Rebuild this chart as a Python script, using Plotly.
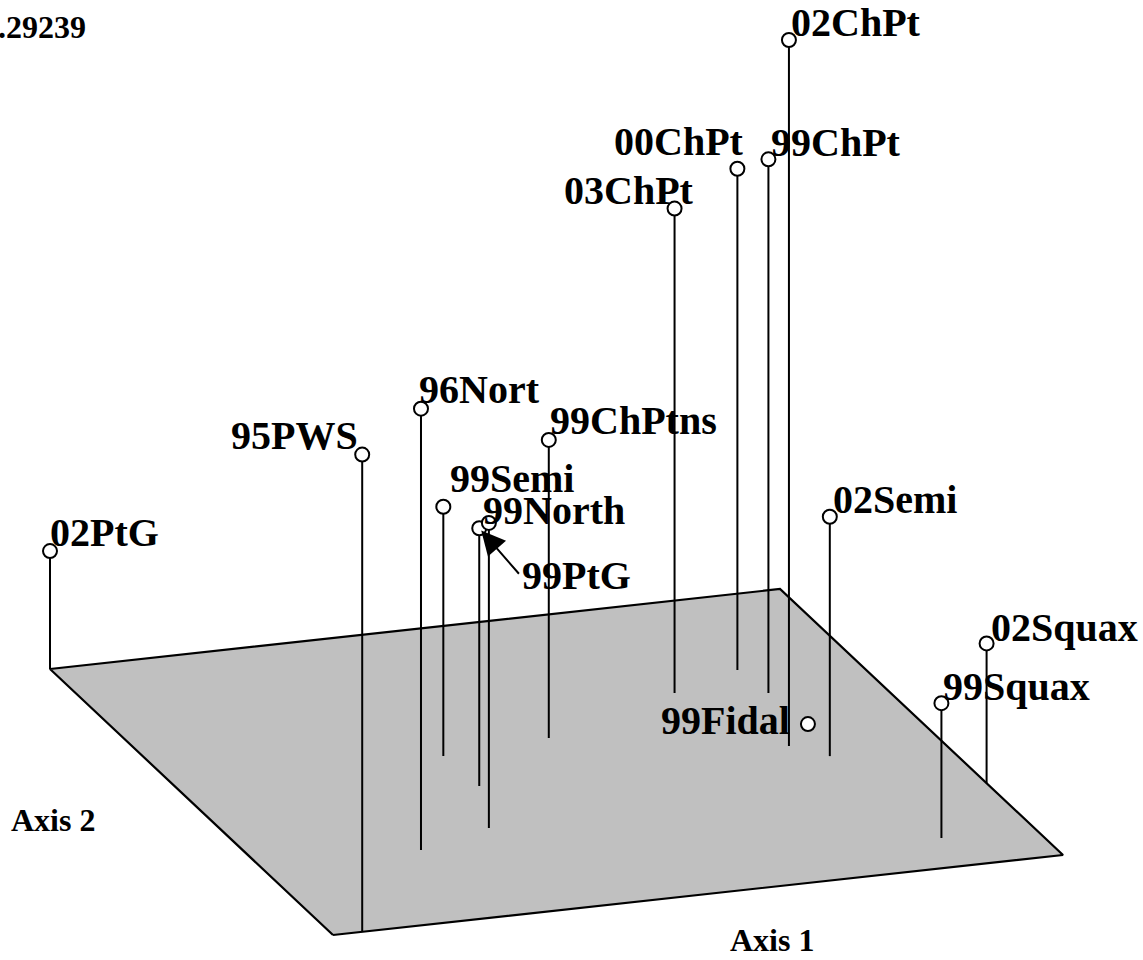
import plotly.graph_objects as go

# ---- data (normalised ordination scores) ----
samples = ["02PtG", "95PWS", "96Nort", "99Semi", "99PtG", "99North", "99ChPtns",
           "03ChPt", "00ChPt", "99ChPt", "02ChPt", "02Semi", "99Squax", "02Squax", "99Fidal"]
axis1 = [0.000, 0.040, 0.219, 0.369, 0.374, 0.331, 0.522,
         0.735, 0.842, 0.850, 0.806, 0.843, 0.873, 1.000, 0.858]
axis2 = [1.000, 0.000, 0.254, 0.562, 0.448, 0.303, 0.584,
         0.689, 0.743, 0.654, 0.468, 0.419, 0.102, 0.270, 0.535]
axis3 = [0.167, 0.676, 0.625, 0.353, 0.365, 0.432, 0.422,
         0.686, 0.710, 0.756, 1.000, 0.339, 0.191, 0.198, 0.000]
axis3_max_label = ".29239"

# ---- projection (oblique view of the 3-D box) ----
ORIGIN = (333.0, 935.0)
V1 = (730.0, -80.0)     # axis 1 direction on screen
V2 = (-283.0, -266.0)   # axis 2 direction on screen
V3 = 706.0              # axis 3 height scale (screen up)


def proj(u, v, w=0.0):
    x = ORIGIN[0] + u * V1[0] + v * V2[0]
    y = ORIGIN[1] + u * V1[1] + v * V2[1] - w * V3
    return x, y


# label placement: (anchor, dx, dy) relative to marker centre (styling)
label_pos = {
    "02PtG": ("left", -2, -19), "95PWS": ("right", -2, -19), "96Nort": ("left", -4, -19),
    "99Semi": ("left", 5, -28), "99PtG": ("left", 41, 47), "99North": ("left", -8, -12),
    "99ChPtns": ("left", -1, -19), "03ChPt": ("right", 21, -18), "00ChPt": ("right", 9, -27),
    "99ChPt": ("left", 1, -17), "02ChPt": ("left", 0, -18), "02Semi": ("left", 1, -17),
    "99Squax": ("left", 0, -17), "02Squax": ("left", 2, -16), "99Fidal": ("right", -16, -4),
}

fig = go.Figure()

# plane
corners = [(0, 0), (1, 0), (1, 1), (0, 1), (0, 0)]
px = [proj(u, v)[0] for u, v in corners]
py = [proj(u, v)[1] for u, v in corners]
fig.add_trace(go.Scatter(x=px, y=py, mode="lines", fill="toself", fillcolor="#C0C0C0",
                         line=dict(color="black", width=2.2), hoverinfo="skip", showlegend=False))

# stems
sx, sy = [], []
for u, v, w in zip(axis1, axis2, axis3):
    bx, by = proj(u, v, 0)
    tx, ty = proj(u, v, w)
    sx += [bx, tx, None]
    sy += [by, ty, None]
fig.add_trace(go.Scatter(x=sx, y=sy, mode="lines", line=dict(color="black", width=2),
                         hoverinfo="skip", showlegend=False))

# points
mx = [proj(u, v, w)[0] for u, v, w in zip(axis1, axis2, axis3)]
my = [proj(u, v, w)[1] for u, v, w in zip(axis1, axis2, axis3)]
fig.add_trace(go.Scatter(x=mx, y=my, mode="markers", text=samples,
                         marker=dict(size=14, color="white", line=dict(color="black", width=2)),
                         showlegend=False))

FONT = dict(family="Liberation Serif, Times New Roman, serif", size=40, color="black")
annotations = []
for name, x, y in zip(samples, mx, my):
    anc, dx, dy = label_pos[name]
    annotations.append(dict(x=x + dx, y=y + dy, xref="x", yref="y", text="<b>%s</b>" % name,
                            showarrow=False, xanchor=anc, yanchor="middle", font=FONT))
    if name == "99PtG":
        annotations.append(dict(x=x, y=y, xref="x", yref="y", ax=x + dx, ay=y + dy,
                                axref="x", ayref="y", text="", showarrow=True,
                                arrowhead=2, arrowsize=2.4, arrowwidth=2, arrowcolor="black",
                                standoff=3))

SMALL = dict(family="Liberation Serif, Times New Roman, serif", size=32, color="black")
annotations.append(dict(x=0, y=1 - 27 / 960, xref="paper", yref="paper", xshift=-4,
                        text="<b>%s</b>" % axis3_max_label,
                        showarrow=False, xanchor="left", yanchor="middle", font=SMALL))
annotations.append(dict(x=53, y=820, xref="x", yref="y", text="<b>Axis 2</b>",
                        showarrow=False, xanchor="center", yanchor="middle", font=SMALL))
annotations.append(dict(x=772, y=940, xref="x", yref="y", text="<b>Axis 1</b>",
                        showarrow=False, xanchor="center", yanchor="middle", font=SMALL))

fig.update_layout(
    width=1143, height=960, autosize=False,
    margin=dict(l=0, r=0, t=0, b=0, pad=0),
    paper_bgcolor="white", plot_bgcolor="white",
    xaxis=dict(range=[0, 1143], visible=False, fixedrange=True),
    yaxis=dict(range=[960, 0], visible=False, fixedrange=True),
    annotations=annotations,
    showlegend=False,
)

fig.write_html("out.html", config={"displayModeBar": False},
               post_script="document.body.style.margin='0';document.body.style.overflow='hidden';")
